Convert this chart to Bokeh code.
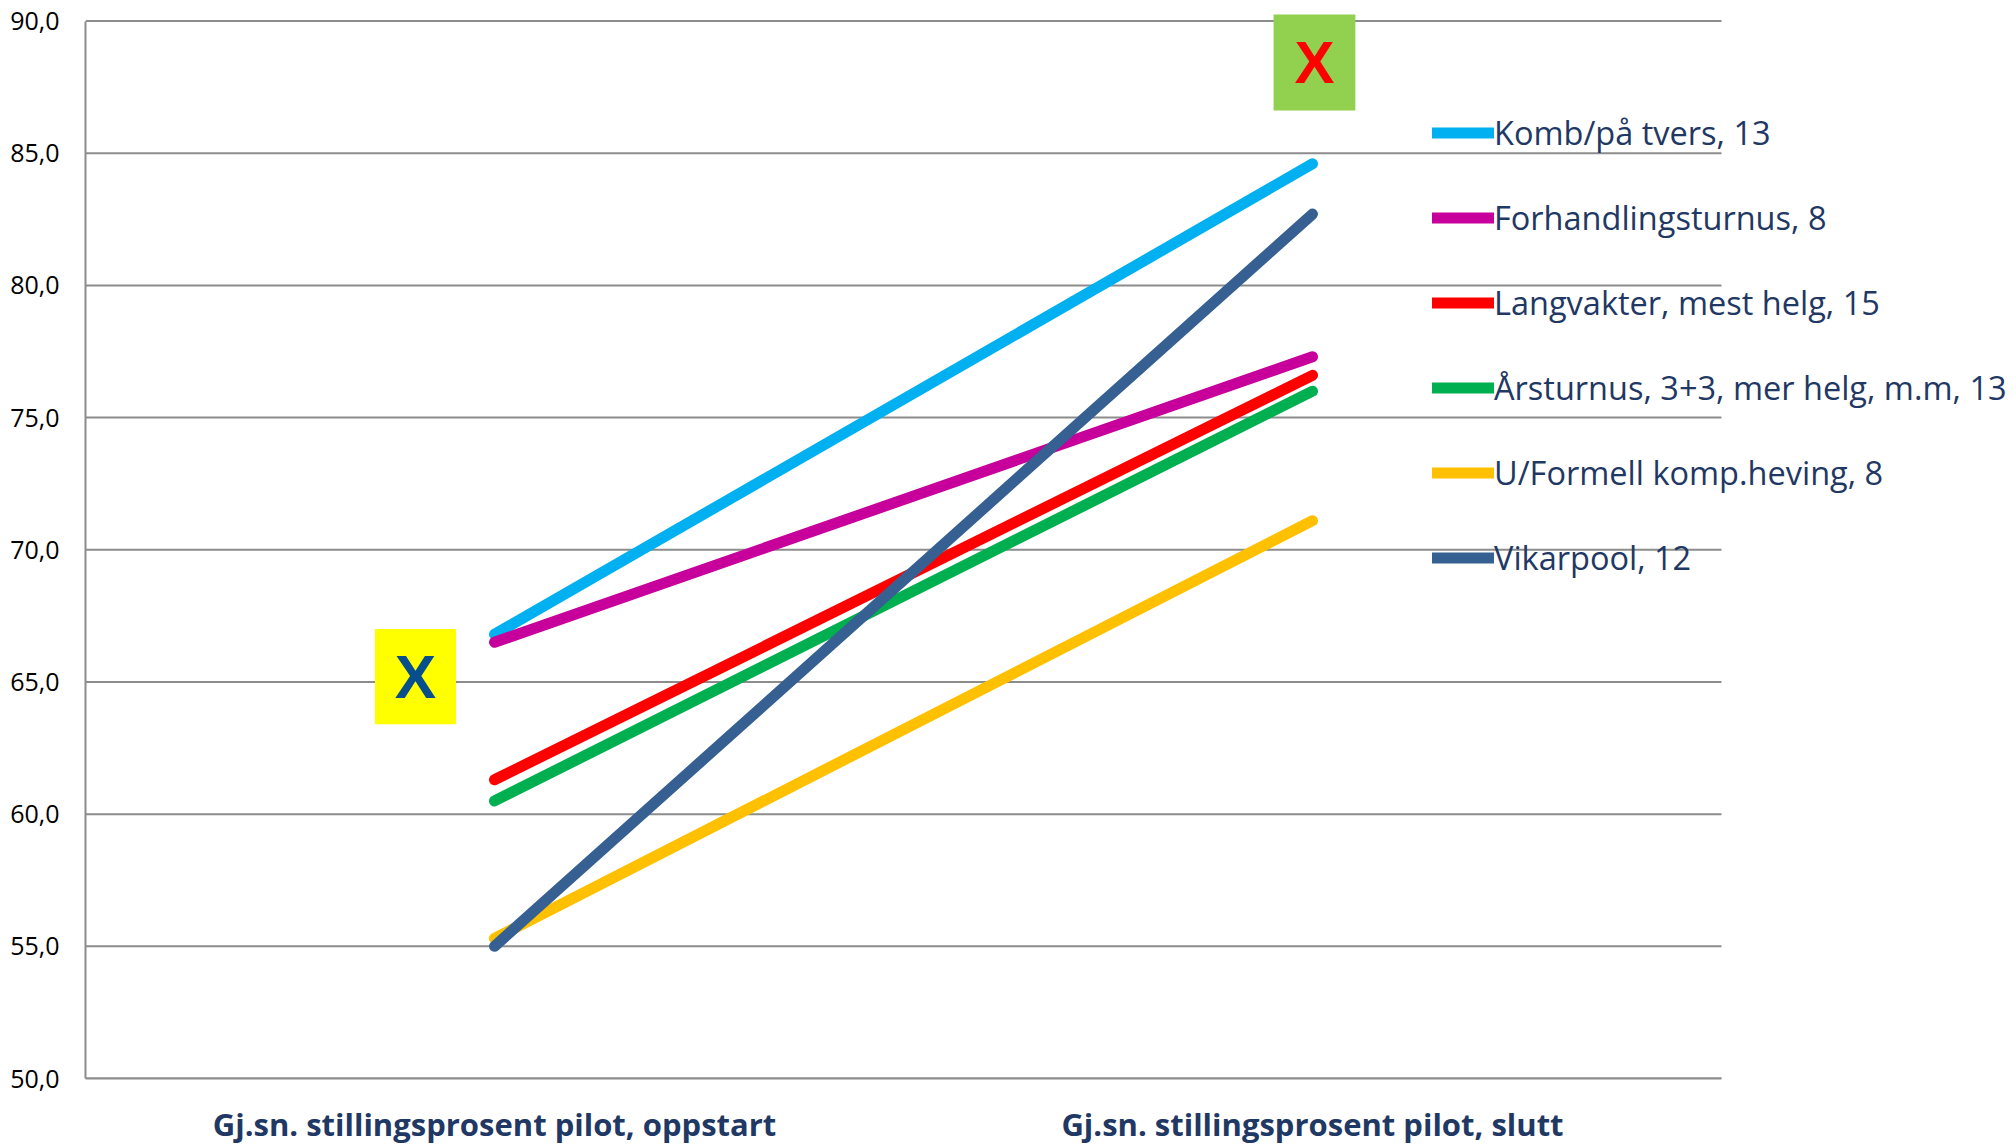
from bokeh.plotting import figure
from bokeh.models import Legend, LegendItem, FixedTicker, Range1d
from bokeh.core.properties import value
from bokeh.embed import file_html
from bokeh.resources import INLINE

# ---- data ----
categories = ["Gj.sn. stillingsprosent pilot, oppstart", "Gj.sn. stillingsprosent pilot, slutt"]
series_names = ["Komb/på tvers, 13", "Forhandlingsturnus, 8", "Langvakter, mest helg, 15",
                "Årsturnus, 3+3, mer helg, m.m, 13", "U/Formell komp.heving, 8", "Vikarpool, 12"]
start_values = [66.8, 66.5, 61.3, 60.5, 55.3, 55.0]
end_values = [84.6, 77.3, 76.6, 76.0, 71.1, 82.7]
y_ticks = [50, 55, 60, 65, 70, 75, 80, 85, 90]
y_tick_labels = ["50,0", "55,0", "60,0", "65,0", "70,0", "75,0", "80,0", "85,0", "90,0"]

# ---- styling ----
colors = ["#00B0F0", "#C8009B", "#FF0000", "#00B050", "#FFC000", "#376092"]
cat_pos = [0.5, 1.5]
x_lo, x_hi = 0, 2                      # extent of the category axis
FONT = "Open Sans"
NAVY = "#1F3864"
GRID = "#8C8C8C"

# frame extends to the right page edge so the legend (which overlaps the plot) is not clipped
p = figure(frame_width=1929, frame_height=1068, output_backend="svg", toolbar_location=None,
           x_range=Range1d(x_lo, x_hi * 1929 / 1636), y_range=Range1d(50, 90.4),
           min_border_left=85, min_border_right=0, min_border_top=10, min_border_bottom=67)
p.outline_line_color = None
p.background_fill_color = "white"
p.border_fill_color = "white"

# grid (drawn only across the category area)
p.xgrid.grid_line_color = None
p.ygrid.grid_line_color = None
p.segment(x0=[x_lo] * len(y_ticks), x1=[x_hi] * len(y_ticks), y0=y_ticks, y1=y_ticks,
          line_color=GRID, line_width=2)

# y axis
p.yaxis.ticker = FixedTicker(ticks=y_ticks)
p.yaxis.major_label_overrides = {t: l for t, l in zip(y_ticks, y_tick_labels)}
p.yaxis.bounds = (50, 90)
p.yaxis.axis_line_color = GRID
p.yaxis.axis_line_width = 2
p.yaxis.major_tick_line_color = None
p.yaxis.minor_tick_line_color = None
p.yaxis.major_label_text_font = FONT
p.yaxis.major_label_text_font_size = "25px"
p.yaxis.major_label_text_color = "#000000"
p.yaxis.major_label_standoff = 20

# x axis
p.xaxis.ticker = FixedTicker(ticks=cat_pos)
p.xaxis.major_label_overrides = {c: n for c, n in zip(cat_pos, categories)}
p.xaxis.bounds = (x_lo, x_hi)
p.xaxis.axis_line_color = GRID
p.xaxis.axis_line_width = 2
p.xaxis.major_tick_line_color = None
p.xaxis.minor_tick_line_color = None
p.xaxis.major_label_text_font = FONT
p.xaxis.major_label_text_font_style = "bold"
p.xaxis.major_label_text_font_size = "31px"
p.xaxis.major_label_text_color = NAVY
p.xaxis.major_label_standoff = 18

# decoration boxes
box_yellow = dict(x=0.4034, y=65.2, w=0.099, h=3.6)
box_green = dict(x=1.5024, y=88.43, w=0.1, h=3.63)
p.rect(x=[box_yellow["x"]], y=[box_yellow["y"]], width=box_yellow["w"], height=box_yellow["h"],
       fill_color="#FFFF00", line_color=None)
p.rect(x=[box_green["x"]], y=[box_green["y"]], width=box_green["w"], height=box_green["h"],
       fill_color="#92D050", line_color=None)
p.text(x=[box_yellow["x"]], y=[box_yellow["y"]], text=["X"], text_align="center", text_baseline="middle",
       text_font=value("Liberation Sans"), text_font_style="bold", text_font_size="62px", text_color="#064F8C")
p.text(x=[box_green["x"]], y=[box_green["y"]], text=["X"], text_align="center", text_baseline="middle",
       text_font=value("Liberation Sans"), text_font_style="bold", text_font_size="60px", text_color="#FF0000")

# series lines
items = []
for name, s, e, c in zip(series_names, start_values, end_values, colors):
    r = p.line(x=cat_pos, y=[s, e], line_color=c, line_width=11, line_cap="round", line_join="round")
    items.append(LegendItem(label=name, renderers=[r]))

legend = Legend(items=items, location=(1347, 498), orientation="vertical",
                glyph_width=62, glyph_height=45, label_height=45, label_standoff=0,
                spacing=40, padding=0, margin=0,
                label_text_font=FONT, label_text_font_size="32.5px", label_text_color=NAVY,
                background_fill_alpha=0, border_line_color=None)
p.add_layout(legend, "center")

open("out.html", "w").write(file_html(p, INLINE))
